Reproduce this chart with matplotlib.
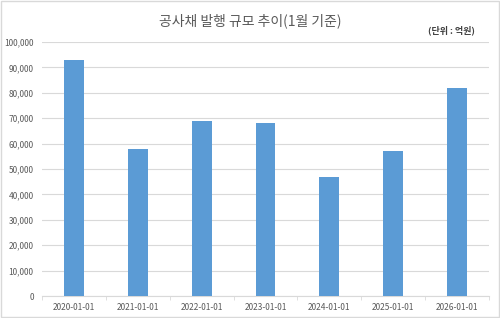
import numpy as np
import matplotlib.pyplot as plt
from matplotlib.ticker import FuncFormatter, FixedLocator

plt.rcParams['font.family'] = ['Noto Sans CJK KR', 'DejaVu Sans']

dates = ['2020-01-01', '2021-01-01', '2022-01-01', '2023-01-01',
         '2024-01-01', '2025-01-01', '2026-01-01']
issued = [93000, 58000, 69000, 68000, 47000, 57000, 82000]

fig = plt.figure(figsize=(5, 3.18), dpi=100)
ax = fig.add_axes([0.084, 0.069, 0.894, 0.799])

x = np.arange(len(dates))
ax.bar(x, issued, width=0.31, color='#5B9BD5', zorder=3)

ax.set_xlim(-0.5, len(dates) - 0.5)
ax.set_ylim(0, 100000)
ax.set_yticks(np.arange(0, 100001, 10000))
ax.yaxis.set_major_formatter(FuncFormatter(lambda v, p: f'{int(v):,}'))
ax.grid(axis='y', color='#d9d9d9', linewidth=0.8, zorder=0)

ax.set_xticks(x)
ax.set_xticklabels(dates)
ax.xaxis.set_minor_locator(FixedLocator(np.arange(-0.5, len(dates), 1)))
ax.tick_params(axis='x', which='major', length=0, labelsize=6, colors='#595959', pad=5)
ax.tick_params(axis='x', which='minor', length=3, color='#d9d9d9')
ax.tick_params(axis='y', length=0, labelsize=6, colors='#595959', pad=6)

for s in ['top', 'right', 'left']:
    ax.spines[s].set_visible(False)
ax.spines['bottom'].set_color('#d9d9d9')

fig.text(0.5, 0.935, '공사채 발행 규모 추이(1월 기준)', ha='center', va='center',
         fontsize=10, color='#595959')
fig.text(0.95, 0.905, '(단위 : 억원)', ha='right', va='center',
         fontsize=6.5, color='#404040', fontweight='bold')

fig.patches.append(plt.Rectangle((0.002, 0.003), 0.996, 0.994, transform=fig.transFigure,
                                 fill=False, edgecolor='#d9d9d9', linewidth=1))

fig.savefig('out.png', dpi=100)
